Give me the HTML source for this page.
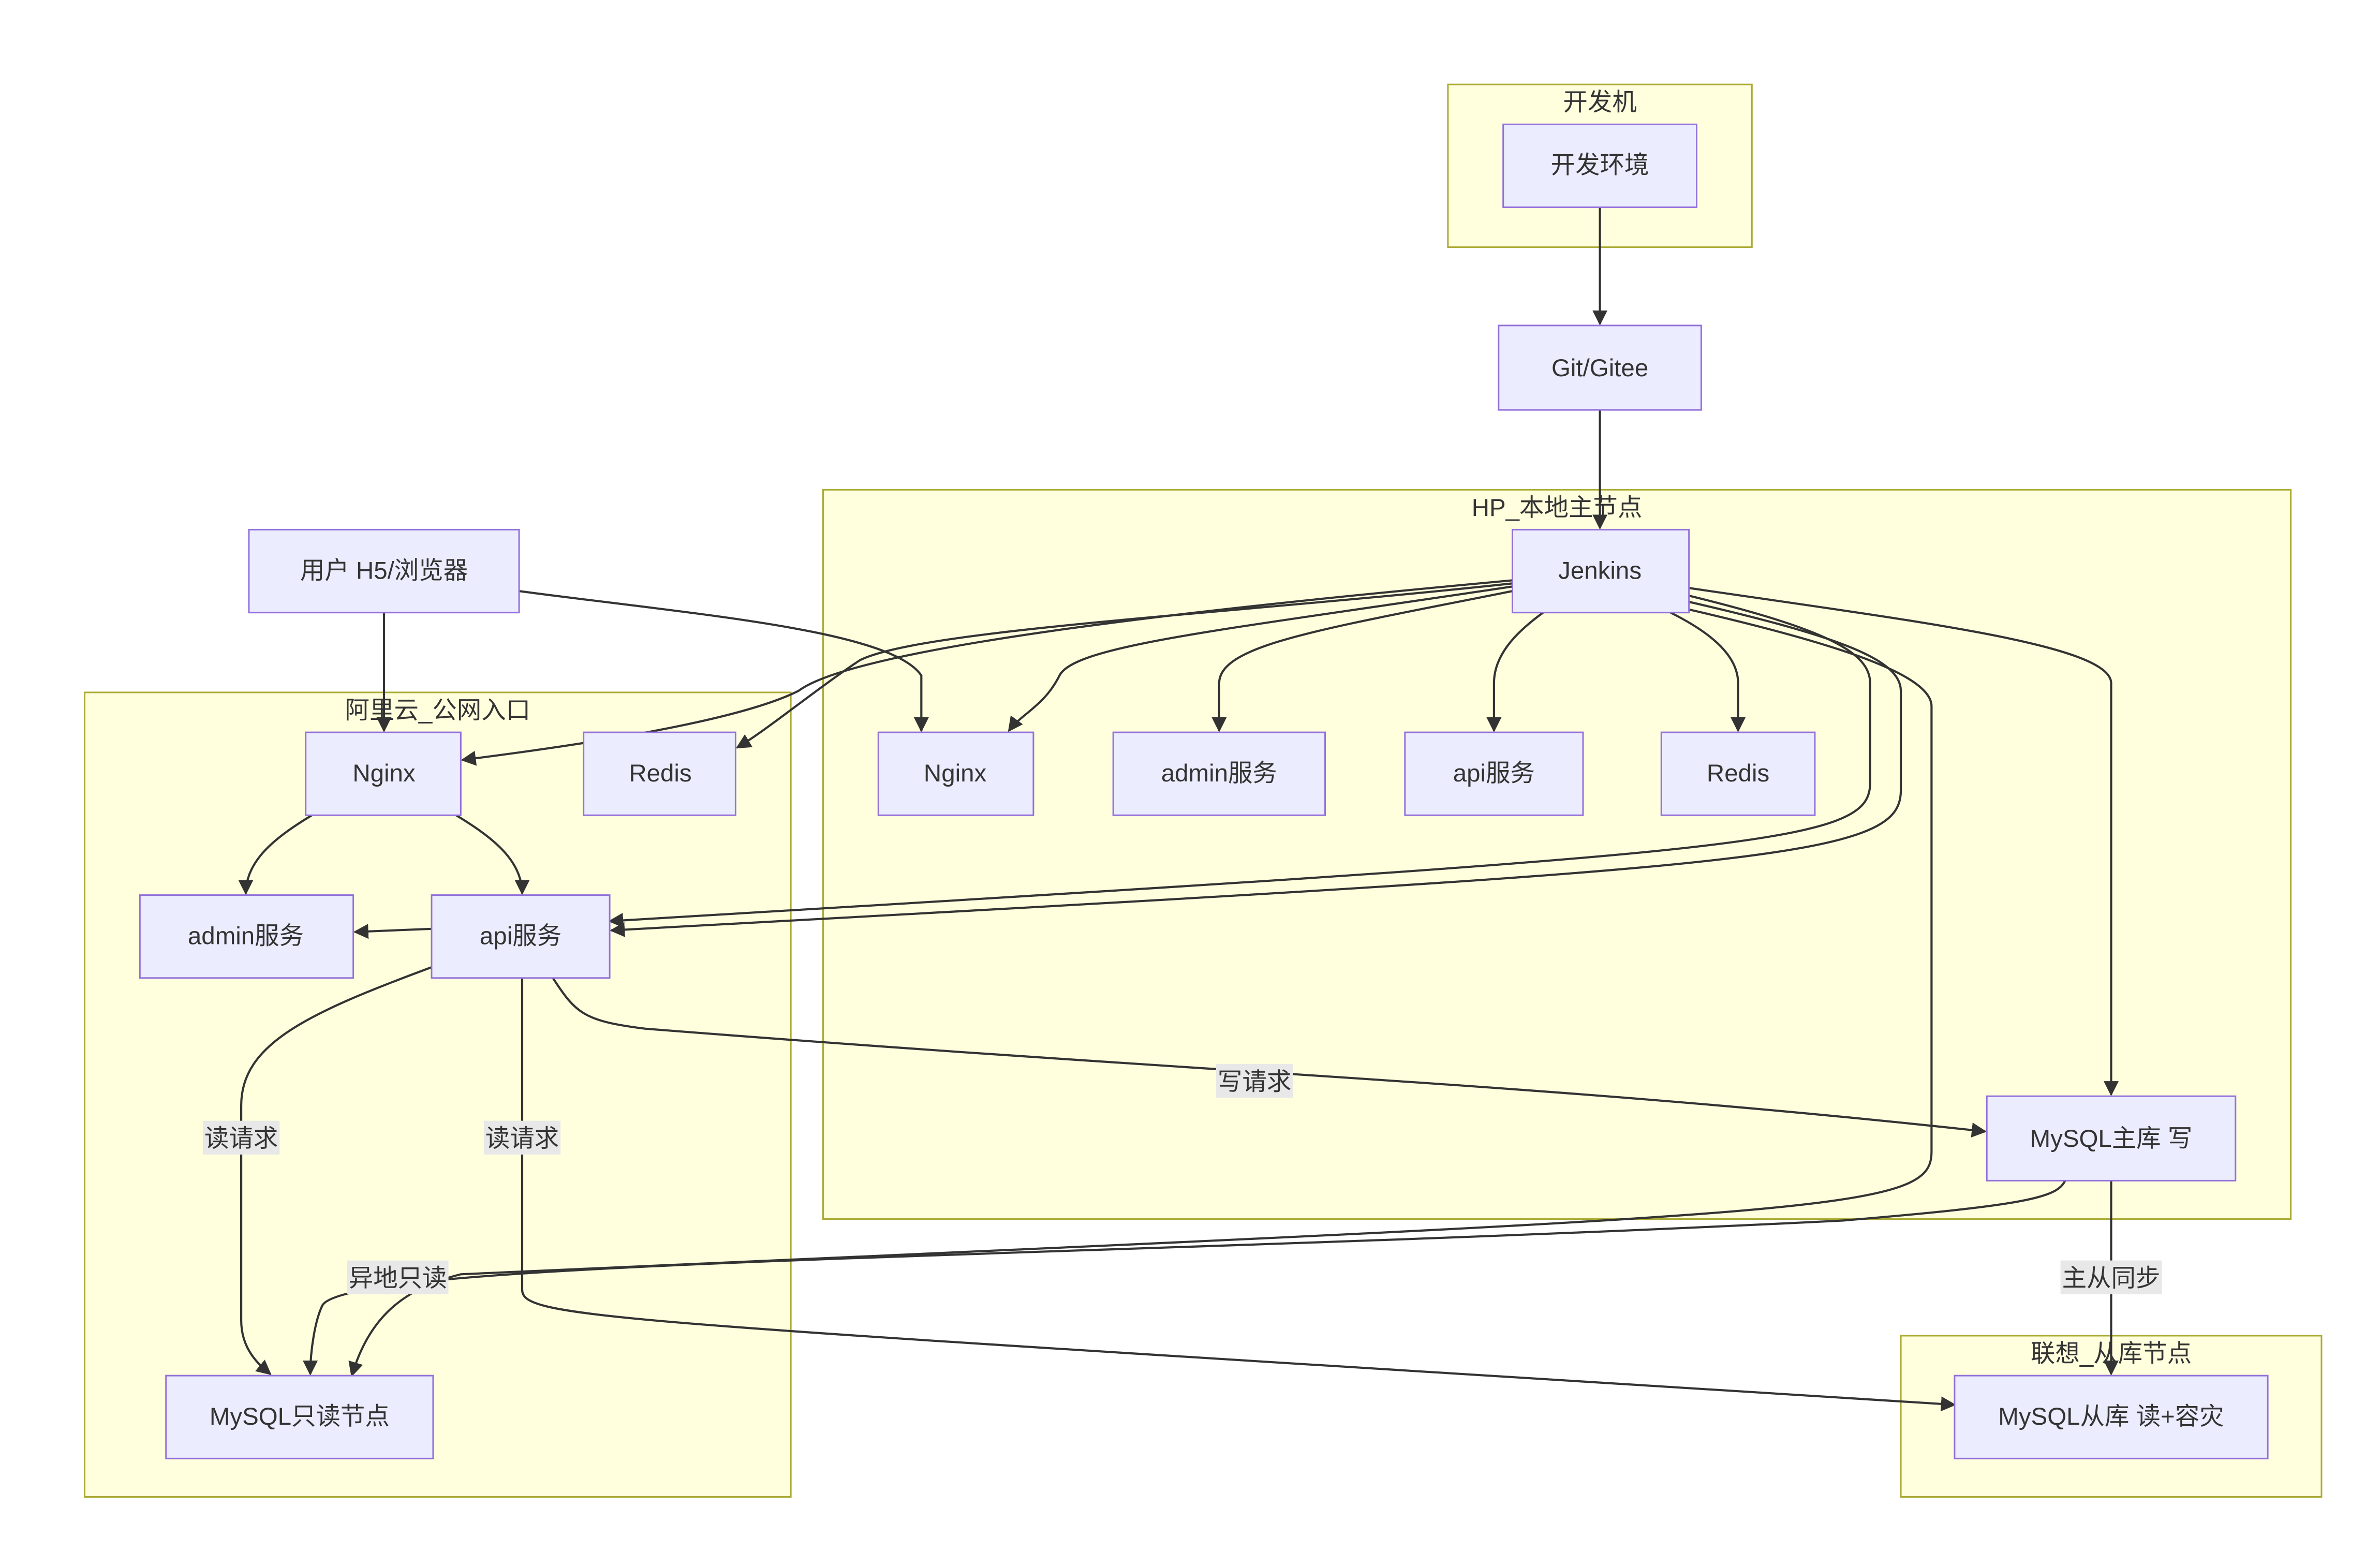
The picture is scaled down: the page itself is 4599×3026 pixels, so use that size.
<!DOCTYPE html>
<html><head><meta charset="utf-8"><style>
html,body{margin:0;padding:0;background:#fff}
svg{display:block}
text{font-family:"Liberation Sans","Noto Sans CJK SC",sans-serif;fill:#333;font-size:16px}
.c{fill:#ffffde;stroke:#aaaa33;stroke-width:1}
.n{fill:#ececff;stroke:#9370db;stroke-width:1}
.e{fill:none;stroke:#333;stroke-width:1.4}
.lb{fill:#e8e8e8}
</style></head><body>
<svg width="4599" height="3026" viewBox="0 0 1550 1020" xmlns="http://www.w3.org/2000/svg">
<defs><marker id="a" viewBox="0 0 10 10" refX="9" refY="5" markerWidth="7" markerHeight="7" orient="auto"><path d="M0,0L10,5L0,10z" fill="#333"/></marker></defs>
<rect class="c" x="943" y="55" width="198" height="106"/><text x="1042" y="72" text-anchor="middle">开发机</text>
<rect class="c" x="536" y="319" width="956" height="475"/><text x="1014" y="336" text-anchor="middle">HP_本地主节点</text>
<rect class="c" x="55" y="451" width="460" height="524"/><text x="285" y="468" text-anchor="middle">阿里云_公网入口</text>
<rect class="c" x="1238" y="870" width="274" height="105"/><text x="1375" y="887" text-anchor="middle">联想_从库节点</text>

<g class="e" marker-end="url(#a)">
<path d="M1042,135V211"/>
<path d="M1042,267V344"/>
<path d="M250,399V476"/>
<path d="M338,385C450,400 580,410 600,440V476"/>
<path d="M985,378C800,395 560,420 520,450C480,470 380,485 301,495"/>
<path d="M985,380C800,400 600,410 560,430C530,450 500,475 480,487"/>
<path d="M985,382C800,410 700,420 690,440C680,460 665,465 657,476"/>
<path d="M985,385C860,410 794,420 794,445V476"/>
<path d="M1005,399C990,410 973,425 973,445V476"/>
<path d="M1088,399C1110,410 1132,425 1132,445V476"/>
<path d="M1100,383C1250,405 1375,420 1375,445V713"/>
<path d="M1100,388C1190,410 1218,425 1218,445V510C1218,550 1150,555 397,600"/>
<path d="M1100,392C1200,415 1238,430 1238,450V515C1238,560 1150,565 398,606"/>
<path d="M1100,397C1200,420 1258,440 1258,460V750C1258,790 1200,790 300,830C260,840 240,860 229,896"/>
<path d="M203,531C180,545 160,560 160,582"/>
<path d="M297,531C320,545 340,560 340,582"/>
<path d="M281,605L231,607"/>
<path d="M281,630C200,660 157,680 157,720V860C157,880 170,890 176,895"/>
<path d="M340,637V840C340,860 400,860 1273,915"/>
<path d="M360,637C375,660 380,665 420,670C800,700 1000,705 1293,737"/>
<path d="M1345,769C1340,780 1320,785 1200,795C700,820 230,820 210,850C205,860 202,880 202,895"/>
<path d="M1375,769V895"/>
</g>

<rect class="n" x="979" y="81" width="126" height="54"/><text x="1042" y="113" text-anchor="middle">开发环境</text>
<rect class="n" x="976" y="212" width="132" height="55"/><text x="1042" y="245" text-anchor="middle">Git/Gitee</text>
<rect class="n" x="985" y="345" width="115" height="54"/><text x="1042" y="377" text-anchor="middle">Jenkins</text>
<rect class="n" x="572" y="477" width="101" height="54"/><text x="622" y="509" text-anchor="middle">Nginx</text>
<rect class="n" x="725" y="477" width="138" height="54"/><text x="794" y="509" text-anchor="middle">admin服务</text>
<rect class="n" x="915" y="477" width="116" height="54"/><text x="973" y="509" text-anchor="middle">api服务</text>
<rect class="n" x="1082" y="477" width="100" height="54"/><text x="1132" y="509" text-anchor="middle">Redis</text>
<rect class="n" x="1294" y="714" width="162" height="55"/><text x="1375" y="747" text-anchor="middle">MySQL主库 写</text>
<rect class="n" x="162" y="345" width="176" height="54"/><text x="250" y="377" text-anchor="middle">用户 H5/浏览器</text>
<rect class="n" x="199" y="477" width="101" height="54"/><text x="250" y="509" text-anchor="middle">Nginx</text>
<rect class="n" x="380" y="477" width="99" height="54"/><text x="430" y="509" text-anchor="middle">Redis</text>
<rect class="n" x="91" y="583" width="139" height="54"/><text x="160" y="615" text-anchor="middle">admin服务</text>
<rect class="n" x="281" y="583" width="116" height="54"/><text x="339" y="615" text-anchor="middle">api服务</text>
<rect class="n" x="108" y="896" width="174" height="54"/><text x="195" y="928" text-anchor="middle">MySQL只读节点</text>
<rect class="n" x="1273" y="896" width="204" height="54"/><text x="1375" y="928" text-anchor="middle">MySQL从库 读+容灾</text>

<rect class="lb" x="132" y="730" width="50" height="22"/><text x="157" y="747" text-anchor="middle">读请求</text>
<rect class="lb" x="315" y="730" width="50" height="22"/><text x="340" y="747" text-anchor="middle">读请求</text>
<rect class="lb" x="792" y="693" width="50" height="22"/><text x="817" y="710" text-anchor="middle">写请求</text>
<rect class="lb" x="226" y="821" width="66" height="22"/><text x="259" y="838" text-anchor="middle">异地只读</text>
<rect class="lb" x="1342" y="821" width="66" height="22"/><text x="1375" y="838" text-anchor="middle">主从同步</text>
</svg>
</body></html>
